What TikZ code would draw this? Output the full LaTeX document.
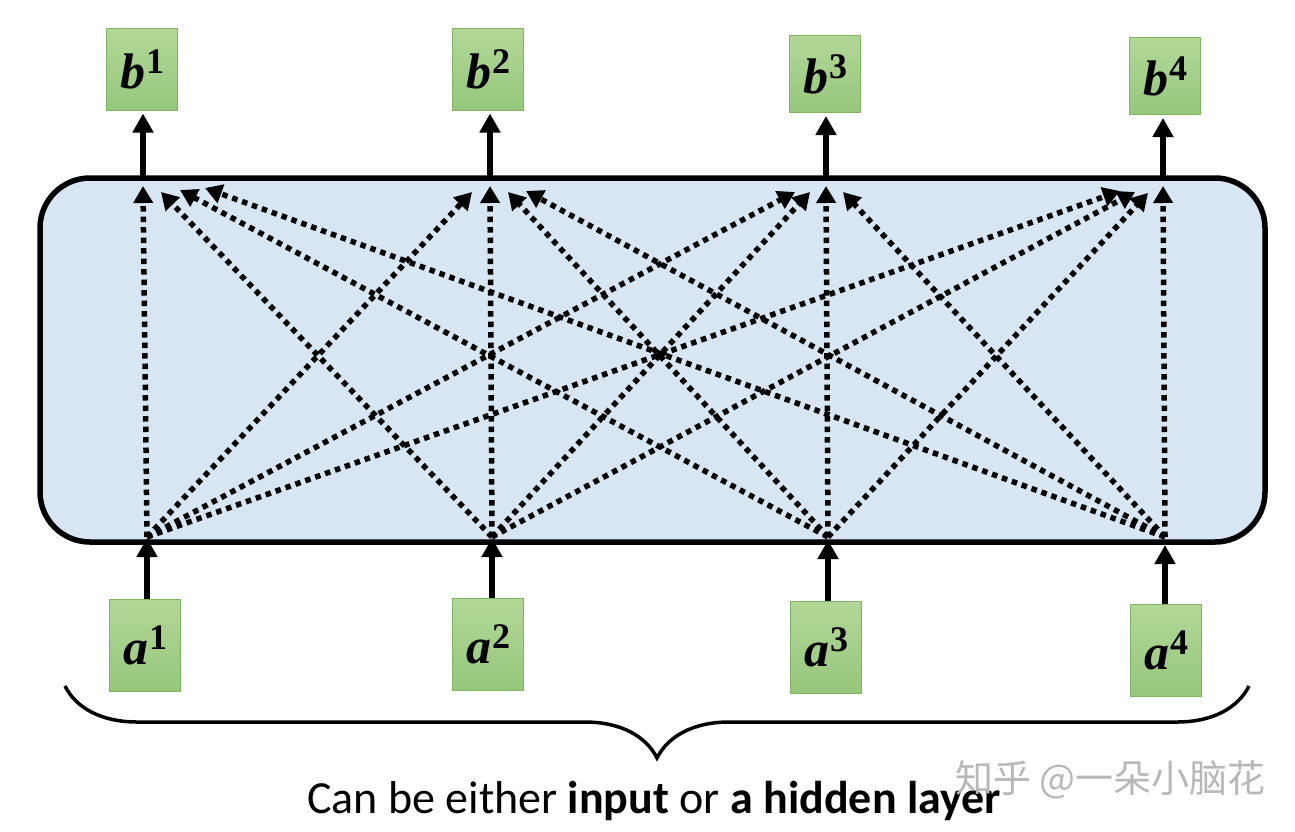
\documentclass[tikz,border=0pt]{standalone}
\usepackage{fontspec}
\setmainfont{Carlito}
\newfontfamily\labfont{Liberation Serif}
\newfontfamily\cjkfont{Noto Sans CJK SC}
\usetikzlibrary{arrows.meta,decorations.pathreplacing}
\definecolor{boxtop}{RGB}{178,215,152}
\definecolor{boxbot}{RGB}{150,199,124}
\definecolor{boxedge}{RGB}{128,180,98}
\definecolor{panel}{RGB}{216,229,243}
\newcommand{\lbl}[2]{{\labfont\bfseries\itshape\fontsize{50}{50}\selectfont #1}\kern1pt\raisebox{15pt}{\labfont\bfseries\fontsize{36}{36}\selectfont #2}}
\tikzset{
  vecbox/.style={draw=boxedge, line width=1pt, top color=boxtop, bottom color=boxbot, minimum width=71pt, inner sep=0pt},
  solidarrow/.style={line width=6pt, -{Triangle[length=19pt,width=20pt]}},
  dotarrow/.style={line width=5.5pt, dash pattern=on 5.5pt off 5pt, -{Triangle[length=17pt,width=19pt]}},
  panelbox/.style={draw=black, line width=5.5pt, fill=panel, rounded corners=50pt}
}
\begin{document}
\begin{tikzpicture}[x=1pt,y=-1pt]
\useasboundingbox (0,0) rectangle (1295,831);
% panel
\node[panelbox, minimum width=1225pt, minimum height=364pt, inner sep=0pt] (panel) at (652.5,360) {};
% output boxes
\node[vecbox, minimum height=82pt] (b1) at (142,69) {\lbl{b}{1}};
\node[vecbox, minimum height=82pt] (b2) at (488,69) {\lbl{b}{2}};
\node[vecbox, minimum height=77pt] (b3) at (825,74) {\lbl{b}{3}};
\node[vecbox, minimum height=77pt] (b4) at (1165,76) {\lbl{b}{4}};
% input boxes
\node[vecbox, minimum height=92pt] (a1) at (145,645) {\lbl{a}{1}};
\node[vecbox, minimum height=92pt] (a2) at (488,644) {\lbl{a}{2}};
\node[vecbox, minimum height=92pt] (a3) at (826,647) {\lbl{a}{3}};
\node[vecbox, minimum height=92pt] (a4) at (1166,650) {\lbl{a}{4}};
% coordinates on the panel
\coordinate (q1) at (143,176); \coordinate (q2) at (490,176);
\coordinate (q3) at (826,176); \coordinate (q4) at (1163,176);
\coordinate (p1) at (147,538); \coordinate (p2) at (492,538);
\coordinate (p3) at (828,540); \coordinate (p4) at (1165,545);
\coordinate (s1) at (147,537); \coordinate (s2) at (492,537);
\coordinate (s3) at (828,537); \coordinate (s4) at (1165,537);
% dotted targets t<target><source>
\coordinate (t11) at (143,186); \coordinate (t12) at (161,192); \coordinate (t13) at (180,190); \coordinate (t14) at (205,188);
\coordinate (t21) at (472,192); \coordinate (t22) at (490,186); \coordinate (t23) at (508,192); \coordinate (t24) at (526,191);
\coordinate (t31) at (795,192); \coordinate (t32) at (810,192); \coordinate (t33) at (826,186); \coordinate (t34) at (843,192);
\coordinate (t41) at (1120,191); \coordinate (t42) at (1135,192); \coordinate (t43) at (1148,193); \coordinate (t44) at (1163,186);
% dotted connections
\foreach \i in {1,2,3,4}{
  \foreach \j in {1,2,3,4}{
    \draw[dotarrow] (s\j) -- (t\i\j);
  }
}
% solid arrows
\draw[solidarrow] (a1.north -| p1) -- (p1);
\draw[solidarrow] (a2.north -| p2) -- (p2);
\draw[solidarrow] (a3.north -| p3) -- (p3);
\draw[solidarrow] (a4.north -| p4) -- (p4);
\draw[solidarrow] (q1) -- ([yshift=-3pt]b1.south -| q1);
\draw[solidarrow] (q2) -- ([yshift=-3pt]b2.south -| q2);
\draw[solidarrow] (q3) -- ([yshift=-3pt]b3.south -| q3);
\draw[solidarrow] (q4) -- ([yshift=-3pt]b4.south -| q4);
% brace
\coordinate (bl) at (65,686); \coordinate (br) at (1249,686);
\draw[line width=3.5pt, decorate, decoration={brace, mirror, amplitude=72pt}] (bl) -- (br);
% caption
\node[anchor=base, inner sep=0pt, font=\fontsize{46}{54}\selectfont] (cap) at (654,813) {Can be either \textbf{input} or \textbf{a hidden layer}};
\node[anchor=base west, inner sep=0pt, text=black!28, font=\cjkfont\fontsize{38}{44}\selectfont] (wm) at (955,792) {知乎 @一朵小脑花};
\end{tikzpicture}
\end{document}
